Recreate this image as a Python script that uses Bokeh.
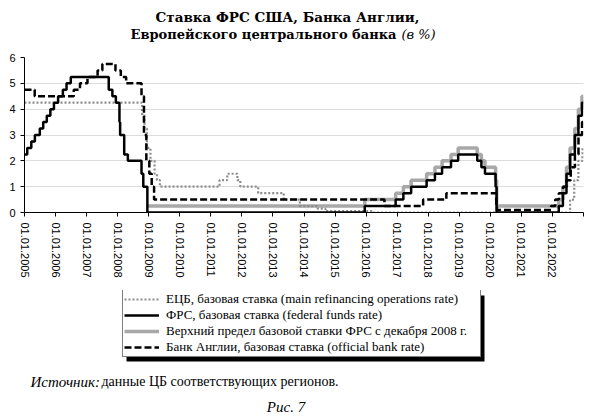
from datetime import date
from bokeh.plotting import figure
from bokeh.layouts import column
from bokeh.models import Legend, LegendItem, Label, FixedTicker, Range1d, BoxAnnotation
from bokeh.embed import file_html
from bokeh.resources import INLINE

# ---------------- data (change points, step functions) ----------------
ecb_dates = ["2005-01-01", "2008-10-15", "2008-11-12", "2008-12-10", "2009-01-21",
             "2009-03-11", "2009-04-08", "2009-05-13", "2011-04-13", "2011-07-13",
             "2011-11-09", "2011-12-14", "2012-07-11", "2013-05-08", "2013-11-13",
             "2014-06-11", "2014-09-10", "2016-03-16", "2022-07-27", "2022-09-14",
             "2022-11-02", "2022-12-21", "2022-12-31"]
ecb_vals = [4.25, 3.75, 3.25, 2.5, 2.0, 1.5, 1.25, 1.0, 1.25, 1.5, 1.25, 1.0, 0.75,
            0.5, 0.25, 0.15, 0.05, 0.0, 0.5, 1.25, 2.0, 2.5, 2.5]

fed_dates = ["2005-01-01", "2005-02-02", "2005-03-22", "2005-05-03", "2005-06-30",
             "2005-08-09", "2005-09-20", "2005-11-01", "2005-12-13", "2006-01-31",
             "2006-03-28", "2006-05-10", "2006-06-29", "2007-09-18", "2007-10-31",
             "2007-12-11", "2008-01-22", "2008-01-30", "2008-03-18", "2008-04-30",
             "2008-10-08", "2008-10-29", "2008-12-16", "2015-12-16", "2016-12-14",
             "2017-03-15", "2017-06-14", "2017-12-13", "2018-03-21", "2018-06-13",
             "2018-09-26", "2018-12-19", "2019-07-31", "2019-09-18", "2019-10-30",
             "2020-03-03", "2020-03-15", "2022-03-16", "2022-05-04", "2022-06-15",
             "2022-07-27", "2022-09-21", "2022-11-02", "2022-12-14", "2022-12-31"]
fed_vals = [2.25, 2.5, 2.75, 3.0, 3.25, 3.5, 3.75, 4.0, 4.25, 4.5, 4.75, 5.0, 5.25,
            4.75, 4.5, 4.25, 3.5, 3.0, 2.25, 2.0, 1.5, 1.0, 0.0, 0.25, 0.5, 0.75,
            1.0, 1.25, 1.5, 1.75, 2.0, 2.25, 2.0, 1.75, 1.5, 1.0, 0.0, 0.25, 0.75,
            1.5, 2.25, 3.0, 3.75, 4.25, 4.25]

upper_dates = ["2008-12-16", "2015-12-16", "2016-12-14", "2017-03-15", "2017-06-14",
               "2017-12-13", "2018-03-21", "2018-06-13", "2018-09-26", "2018-12-19",
               "2019-07-31", "2019-09-18", "2019-10-30", "2020-03-03", "2020-03-15",
               "2022-03-16", "2022-05-04", "2022-06-15", "2022-07-27", "2022-09-21",
               "2022-11-02", "2022-12-14", "2022-12-31"]
upper_vals = [0.25, 0.5, 0.75, 1.0, 1.25, 1.5, 1.75, 2.0, 2.25, 2.5, 2.25, 2.0, 1.75,
              1.25, 0.25, 0.5, 1.0, 1.75, 2.5, 3.25, 4.0, 4.5, 4.5]

boe_dates = ["2005-01-01", "2005-05-01", "2006-08-03", "2006-10-15", "2007-01-11",
             "2007-05-10", "2007-07-05", "2007-12-06", "2008-02-07", "2008-04-10",
             "2008-10-08", "2008-11-06", "2008-12-04", "2009-01-08", "2009-02-05",
             "2009-03-05", "2016-08-04", "2017-11-02", "2018-08-02", "2020-03-11",
             "2020-03-19", "2021-12-16", "2022-02-03", "2022-03-17", "2022-05-05",
             "2022-06-16", "2022-08-04", "2022-09-22", "2022-11-03", "2022-12-15",
             "2022-12-31"]
boe_vals = [4.75, 4.5, 4.75, 5.0, 5.25, 5.5, 5.75, 5.5, 5.25, 5.0, 4.5, 3.0, 2.0,
            1.5, 1.0, 0.5, 0.25, 0.5, 0.75, 0.25, 0.1, 0.25, 0.5, 0.75, 1.0, 1.25,
            1.75, 2.25, 3.0, 3.5, 3.5]

year_ticks = list(range(2005, 2024))
tick_labels = ["01.01.%d" % y for y in range(2005, 2023)] + [""]
y_ticks = [0, 1, 2, 3, 4, 5, 6]

legend_labels = [
    "ЕЦБ, базовая ставка (main refinancing operations rate)",
    "ФРС, базовая ставка (federal funds rate)",
    "Верхний предел базовой ставки ФРС с декабря 2008 г.",
    "Банк Англии, базовая ставка (official bank rate)",
]
title_line1 = "Ставка ФРС США, Банка Англии,"
title_line2 = "Европейского центрального банка"
title_unit = "(в %)"
source_label = "Источник:"
source_text = "данные ЦБ соответствующих регионов."
fig_label = "Рис. 7"

W = 590
FL, FR = 24, 583          # left / right edge of the plot frame (px)
STYLES = {
    "ecb": dict(line_color="#8c8c8c", line_width=2.2, line_dash="2 2"),
    "fed": dict(line_color="black", line_width=2.5),
    "upper": dict(line_color="#a8a8a8", line_width=3.5),
    "boe": dict(line_color="black", line_width=2.5, line_dash="7 3"),
}


def dec_year(s):
    d = date.fromisoformat(s)
    a = date(d.year, 1, 1)
    b = date(d.year + 1, 1, 1)
    return d.year + (d - a).days / (b - a).days


SERIES = {
    "ecb": ([dec_year(d) for d in ecb_dates], ecb_vals),
    "fed": ([dec_year(d) for d in fed_dates], fed_vals),
    "upper": ([dec_year(d) for d in upper_dates], upper_vals),
    "boe": ([dec_year(d) for d in boe_dates], boe_vals),
}


def blank_fig(h):
    # pixel-coordinate canvas whose frame lines up with the chart frame
    f = figure(width=W, height=h, output_backend="svg", toolbar_location=None,
               x_range=Range1d(FL, FR), y_range=Range1d(0, h),
               x_axis_location=None, y_axis_location=None,
               min_border_left=FL, min_border_right=W - FR,
               min_border_top=0, min_border_bottom=0,
               outline_line_color=None, background_fill_color="white",
               border_fill_color="white")
    f.grid.visible = False
    return f


def lab(f, x, y, text, font="Liberation Serif", size="14px", style="normal", align="left"):
    f.add_layout(Label(x=x, y=y, text=text, text_font=font, text_font_size=size,
                       text_font_style=style, text_align=align,
                       text_baseline="alphabetic", text_color="black"))


# ---------------- title figure ----------------
TH = 50
t = blank_fig(TH)
lab(t, 287, TH - 16.7, title_line1, font="DejaVu Serif", size="13.5px", style="bold", align="center")
lab(t, 396, TH - 34.3, title_line2, font="DejaVu Serif", size="13px", style="bold", align="right")
lab(t, 401, TH - 34.3, title_unit, font="DejaVu Serif", size="13px", style="italic", align="left")

# ---------------- main chart ----------------
MH = 240
p = figure(width=W, height=MH, output_backend="svg", toolbar_location=None,
           x_range=Range1d(2005, 2023), y_range=Range1d(0, 6),
           min_border_left=FL, min_border_right=W - FR, min_border_top=7,
           min_border_bottom=MH - 7 - 155, outline_line_color=None,
           background_fill_color="white", border_fill_color="white")

p.xgrid.grid_line_color = None
p.ygrid.grid_line_color = "#dcdcdc"
p.ygrid.grid_line_width = 1

xa = p.xaxis[0]
xa.ticker = FixedTicker(ticks=year_ticks)
xa.major_label_overrides = {tk: lb for tk, lb in zip(year_ticks, tick_labels)}
xa.major_label_orientation = "vertical"
xa.major_tick_in = 0
xa.major_tick_out = 4
xa.minor_tick_line_color = None
xa.major_label_standoff = 6
xa.major_label_text_font = "Liberation Sans"
xa.major_label_text_font_size = "11px"
xa.major_label_text_color = "black"
xa.axis_line_color = "black"
xa.major_tick_line_color = "black"

ya = p.yaxis[0]
ya.ticker = FixedTicker(ticks=y_ticks)
ya.major_tick_in = 0
ya.major_tick_out = 4
ya.minor_tick_line_color = None
ya.major_label_standoff = 5
ya.major_label_text_font = "Liberation Sans"
ya.major_label_text_font_size = "11px"
ya.major_label_text_color = "black"
ya.axis_line_color = "black"
ya.major_tick_line_color = "black"

for k in ["upper", "ecb", "fed", "boe"]:
    xs, ys = SERIES[k]
    p.step(xs, ys, mode="after", **STYLES[k])

# ---------------- legend + source figure ----------------
BH = 416 - TH - MH
Y0 = TH + MH                      # page y of this canvas' top edge
b = blank_fig(BH)
keys = ["ecb", "fed", "upper", "boe"]
# legend keys: same series and styles, lying outside this pixel canvas
key_rends = [b.step(*SERIES[k], mode="after", **STYLES[k]) for k in keys]


def py(page_y):
    return BH - (page_y - Y0)


LEG_L, LEG_R, LEG_TOP, LEG_BOT = 122, 480, 291, 357   # page px
SH = 4
b.add_layout(BoxAnnotation(left=LEG_L + SH, right=LEG_R + SH,
                           top=py(LEG_TOP + SH), bottom=py(LEG_BOT + SH),
                           fill_color="black", fill_alpha=1, line_color=None))

lg = Legend(items=[LegendItem(label=l, renderers=[r]) for l, r in zip(legend_labels, key_rends)],
            location=(LEG_L - FL, py(LEG_BOT)), orientation="vertical")
lg.background_fill_color = "white"
lg.background_fill_alpha = 1
lg.border_line_color = "black"
lg.border_line_width = 1
lg.label_text_font = "Liberation Serif"
lg.label_text_font_size = "13px"
lg.label_text_color = "black"
lg.glyph_width = 35
lg.glyph_height = 16
lg.label_height = 16
lg.label_standoff = 7
lg.label_width = (LEG_R - LEG_L) - 2 - 35 - 7 - 1
lg.spacing = 0
lg.padding = 1
lg.margin = 0
b.add_layout(lg)

lab(b, 30, py(381), source_label, size="15px", style="italic")
lab(b, 101, py(381), source_text)
lab(b, 285.5, py(406), fig_label, size="15px", style="italic", align="center")

layout = column(t, p, b, spacing=0)
open("out.html", "w").write(file_html(layout, INLINE))
